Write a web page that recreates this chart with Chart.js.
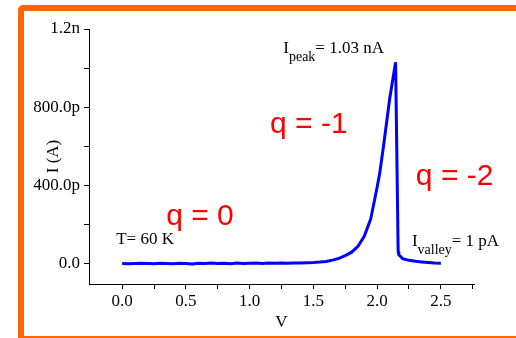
<!DOCTYPE html>
<html>
<head>
<meta charset="utf-8">
<script src="https://cdn.jsdelivr.net/npm/chart.js@4.4.0/dist/chart.umd.min.js"></script>
<style>
  html, body { margin: 0; padding: 0; background: #fff; }
  #wrap { position: relative; width: 516px; height: 338px; overflow: hidden; }
  #frame { position: absolute; left: 18px; top: 5px; width: 600px; height: 325px;
           border: 6px solid #ff6600; border-radius: 5px; }
  #chart { position: absolute; left: 0; top: 0; }
</style>
</head>
<body>
<div id="wrap">
  <div id="frame"></div>
  <canvas id="chart" width="516" height="338"></canvas>
</div>
<script>
// I-V curve, T = 60 K (current in pA)
const voltage = [
    0.00, 0.05, 0.10, 0.15, 0.20, 0.25, 0.30, 0.35, 0.40, 0.45,
    0.50, 0.55, 0.60, 0.65, 0.70, 0.75, 0.80, 0.85, 0.90, 0.95,
    1.00, 1.05, 1.10, 1.15, 1.20, 1.25, 1.30, 1.35, 1.40, 1.45,
    1.50, 1.55, 1.60, 1.65, 1.70, 1.75, 1.80, 1.85, 1.90, 1.95,
    2.00, 2.02, 2.05, 2.08, 2.10, 2.145, 2.165, 2.17, 2.20, 2.25,
    2.30, 2.35, 2.40, 2.45, 2.50
];
const currentPA = [
    0, -1, 0, 1, 0, -1, 1, 0, -1, 1,
    0, -2, 1, 0, 2, 0, 1, -1, 2, 0,
    1, 2, 0, 2, 1, 3, 1, 2, 3, 4,
    5, 7, 10, 17, 26, 40, 58, 88, 140, 228,
    390, 460, 600, 750, 850, 1030, 62, 45, 25, 16,
    11, 8, 5, 2, 1
];

const xTicks = [0, 0.25, 0.5, 0.75, 1.0, 1.25, 1.5, 1.75, 2.0, 2.25, 2.5, 2.75];
const xTickLabels = ['0.0', '', '0.5', '', '1.0', '', '1.5', '', '2.0', '', '2.5', ''];
const yTicks = [0, 200, 400, 600, 800, 1000, 1200];
const yTickLabels = ['0.0', '', '400.0p', '', '800.0p', '', '1.2n'];

// text notes placed in data coordinates (V, pA)
const chargeNotes = [
    { text: 'q = 0', v: 0.345, i: 197 },
    { text: 'q = -1', v: 1.16, i: 669 },
    { text: 'q = -2', v: 2.304, i: 403 }
];
const plainNotes = [
    { parts: [['T= 60 K', 17, 0]], v: -0.047, i: 100 },
    { parts: [['I', 17, 0], ['peak', 14, 8], ['= 1.03 nA', 17, 0]], v: 1.264, i: 1078 },
    { parts: [['I', 17, 0], ['valley', 14, 8], ['= 1 pA', 17, 0]], v: 2.273, i: 91 }
];

const serif = '"Liberation Serif", "Times New Roman", serif';

const notesPlugin = {
    id: 'notes',
    afterDatasetsDraw(chart) {
        const ctx = chart.ctx;
        const x = chart.scales.x, y = chart.scales.y;
        ctx.save();
        ctx.textBaseline = 'alphabetic';
        ctx.textAlign = 'left';
        ctx.fillStyle = '#ff0000';
        ctx.font = '30px "Liberation Sans", Arial, sans-serif';
        chargeNotes.forEach(n => {
            ctx.fillText(n.text, x.getPixelForValue(n.v), y.getPixelForValue(n.i));
        });
        ctx.fillStyle = '#000';
        plainNotes.forEach(n => {
            let px = x.getPixelForValue(n.v);
            const py = y.getPixelForValue(n.i);
            n.parts.forEach(p => {
                ctx.font = p[1] + 'px ' + serif;
                ctx.fillText(p[0], px, py + p[2]);
                px += ctx.measureText(p[0]).width;
            });
        });
        ctx.restore();
    }
};

const ctx = document.getElementById('chart').getContext('2d');
new Chart(ctx, {
    type: 'line',
    data: {
        datasets: [{
            data: voltage.map((v, k) => ({ x: v, y: currentPA[k] })),
            borderColor: '#0000ff',
            borderWidth: 3,
            pointRadius: 0,
            tension: 0,
            fill: false
        }]
    },
    options: {
        responsive: false,
        animation: false,
        layout: { padding: { top: 29, right: 42, bottom: 0, left: 0 } },
        plugins: { legend: { display: false }, tooltip: { enabled: false } },
        scales: {
            x: {
                type: 'linear',
                min: -0.26,
                max: 2.76,
                afterBuildTicks: s => { s.ticks = xTicks.map(v => ({ value: v })); },
                afterFit: s => { s.height = 54; },
                ticks: {
                    autoSkip: false,
                    maxRotation: 0,
                    padding: 2,
                    color: '#000',
                    font: { family: serif, size: 17 },
                    callback: (val) => xTickLabels[xTicks.indexOf(val)] ?? ''
                },
                grid: { drawOnChartArea: false, drawTicks: true, tickLength: 5, color: '#000' },
                border: { display: true, color: '#000', width: 1 },
                title: {
                    display: true, text: 'V', color: '#000',
                    font: { family: serif, size: 17 },
                    padding: { top: 0, bottom: 5 }
                }
            },
            y: {
                type: 'linear',
                min: -105,
                max: 1200,
                afterBuildTicks: s => { s.ticks = yTicks.map(v => ({ value: v })); },
                afterFit: s => { s.width = 89; },
                ticks: {
                    autoSkip: false,
                    padding: 4,
                    color: '#000',
                    font: { family: serif, size: 17 },
                    callback: (val) => yTickLabels[yTicks.indexOf(val)] ?? ''
                },
                grid: { drawOnChartArea: false, drawTicks: true, tickLength: 5, color: '#000' },
                border: { display: true, color: '#000', width: 1 },
                title: {
                    display: true, text: 'I (A)', color: '#000',
                    font: { family: serif, size: 17 },
                    padding: { top: 43, bottom: 0 }
                }
            }
        }
    },
    plugins: [notesPlugin]
});
</script>
</body>
</html>
